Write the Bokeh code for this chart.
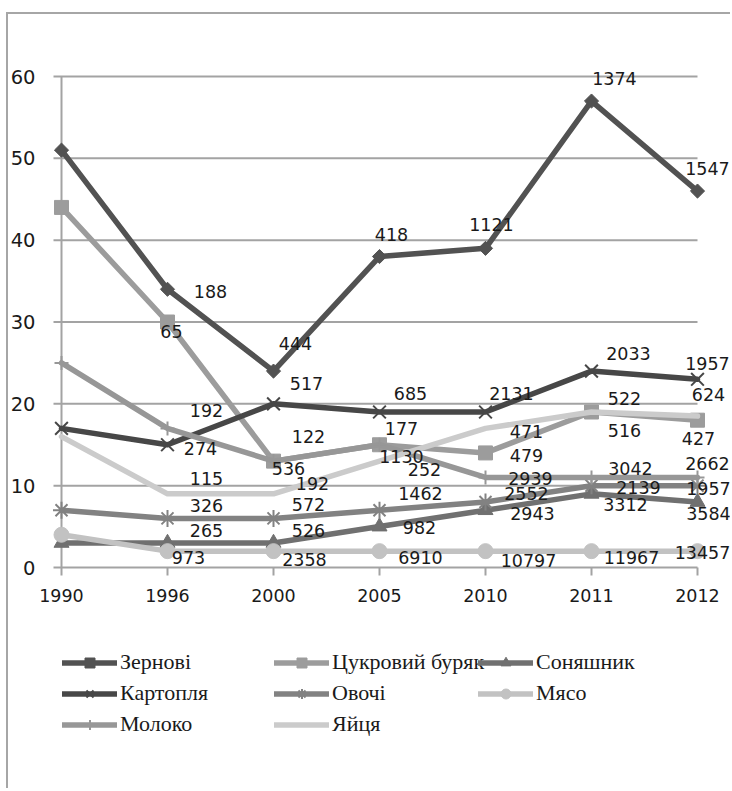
import math
from bokeh.plotting import figure
from bokeh.models import (Range1d, LabelSet, ColumnDataSource, Legend, LegendItem)
from bokeh.embed import file_html
from bokeh.resources import INLINE
from bokeh.core.properties import value

# ---------------- data ----------------
years = ["1990", "1996", "2000", "2005", "2010", "2011", "2012"]
y_ticks = [0, 10, 20, 30, 40, 50, 60]

zernovi = [51, 34, 24, 38, 39, 57, 46]
zernovi_labels = ["", "188", "444", "418", "1121", "1374", "1547"]
tsukr = [44, 30, 13, 15, 14, 19, 18]
tsukr_labels = ["", "65", "536", "177", "479", "516", "427"]
sonyash = [3, 3, 3, 5, 7, 9, 8]
sonyash_labels = ["", "265", "526", "982", "2943", "3312", "3584"]
kartoplya = [17, 15, 20, 19, 19, 24, 23]
kartoplya_labels = ["", "274", "517", "685", "2131", "2033", "1957"]
ovochi = [7, 6, 6, 7, 8, 10, 10]
ovochi_labels = ["", "326", "572", "1462", "2552", "2139", "1957"]
myaso = [4, 2, 2, 2, 2, 2, 2]
myaso_labels = ["", "973", "2358", "6910", "10797", "11967", "13457"]
moloko = [25, 17, 13, 15, 11, 11, 11]
moloko_labels = ["", "192", "122", "252", "2939", "3042", "2662"]
yaytsya = [16, 9, 9, 13, 17, 19, 18.5]
yaytsya_labels = ["", "115", "192", "1130", "471", "522", "624"]

series = [
    ("Зернові", zernovi, zernovi_labels),
    ("Цукровий буряк", tsukr, tsukr_labels),
    ("Соняшник", sonyash, sonyash_labels),
    ("Картопля", kartoplya, kartoplya_labels),
    ("Овочі", ovochi, ovochi_labels),
    ("Мясо", myaso, myaso_labels),
    ("Молоко", moloko, moloko_labels),
    ("Яйця", yaytsya, yaytsya_labels),
]

# ---------------- styles ----------------
style = {
    "Зернові": dict(color="#525252", marker="square", size=10, angle=math.pi / 4, lw=1),
    "Цукровий буряк": dict(color="#9c9c9c", marker="square", size=14, angle=0, lw=1),
    "Соняшник": dict(color="#707070", marker="triangle", size=15, angle=0, lw=1),
    "Картопля": dict(color="#474747", marker="x", size=18, angle=0, lw=2),
    "Овочі": dict(color="#828282", marker="asterisk", size=17, angle=0, lw=2),
    "Мясо": dict(color="#c2c2c2", marker="circle", size=15, angle=0, lw=1),
    "Молоко": dict(color="#979797", marker="cross", size=14, angle=0, lw=2),
    "Яйця": dict(color="#cbcbcb", marker=None, size=0, angle=0, lw=1),
}
# label offsets in screen px (dx right, dy down) per series
label_off = {
    "Зернові": [(0, 0), (43, 2), (22, -28), (12, -22), (6, -24), (23, -23), (10, -23)],
    "Цукровий буряк": [(0, 0), (4, 9), (15, 7), (22, -16), (41, 3), (33, 18), (1, 18)],
    "Соняшник": [(0, 0), (39, -12), (35, -12), (40, 1), (47, 3), (34, 11), (11, 11)],
    "Картопля": [(0, 0), (33, 4), (33, -20), (31, -19), (26, -19), (37, -18), (10, -16)],
    "Овочі": [(0, 0), (39, -13), (35, -14), (41, -17), (41, -9), (47, 2), (11, 3)],
    "Мясо": [(0, 0), (21, 6), (31, 8), (41, 6), (43, 9), (40, 6), (5, 1)],
    "Молоко": [(0, 0), (39, -18), (35, -25), (45, 25), (45, 1), (39, -9), (10, -14)],
    "Яйця": [(0, 0), (39, -15), (39, -10), (22, -5), (41, 3), (33, -14), (11, -22)],
}
legend_cols = [["Зернові", "Картопля", "Молоко"],
               ["Цукровий буряк", "Овочі", "Яйця"],
               ["Соняшник", "Мясо"]]
legend_pos = [(62, 51), (274, 51), (478, 82)]

GRID = "#a3a3a3"
TXT = "#1a1a1a"
W, H = 730, 788
n = len(years)
# plot geometry (screen px)
X0_PX, Y0_PX = 61, 567          # where x=0 / y=0 fall
PX_X = 106.0                    # px per category step
PX_Y = 491.0 / 60               # px per unit
TICK = 8                        # tick length px

x_start = -X0_PX / PX_X
x_end = x_start + W / PX_X
y_start = -(H - Y0_PX) / PX_Y
y_end = y_start + H / PX_Y

p = figure(width=W, height=H, output_backend="svg", toolbar_location=None,
           x_range=Range1d(x_start, x_end), y_range=Range1d(y_start, y_end),
           min_border_left=0, min_border_right=0, min_border_top=0,
           min_border_bottom=0)
p.xaxis.visible = False
p.yaxis.visible = False
p.xgrid.visible = False
p.ygrid.visible = False
p.border_fill_color = None
p.background_fill_color = None
p.outline_line_color = None
p.styles = {
    "background": ("linear-gradient(#a6a6a6,#a6a6a6) 6px 12px / 2px calc(100% - 12px) no-repeat, "
                   "linear-gradient(#a6a6a6,#a6a6a6) 6px 12px / calc(100% - 6px) 2px no-repeat"),
}

# gridlines (with outward tick stubs) and axes
stub = -TICK / PX_X
p.segment(x0=[stub] * len(y_ticks), x1=[n - 1] * len(y_ticks), y0=y_ticks, y1=y_ticks,
          line_color=GRID, line_width=2)
p.segment(x0=[0], x1=[0], y0=[y_ticks[0]], y1=[y_ticks[-1]], line_color=GRID, line_width=2)
xs = list(range(n))
p.segment(x0=xs, x1=xs, y0=[0] * n, y1=[-TICK / PX_Y] * n, line_color=GRID, line_width=2)

ytl = ColumnDataSource(dict(x=[0] * len(y_ticks), y=y_ticks, text=[str(t) for t in y_ticks]))
p.add_layout(LabelSet(x="x", y="y", text="text", source=ytl, x_offset=-26,
                      text_align="right", text_baseline="middle",
                      text_font=value("DejaVu Sans"), text_font_size=value("19.5px"),
                      text_color=TXT))
xtl = ColumnDataSource(dict(x=xs, y=[0] * n, text=years))
p.add_layout(LabelSet(x="x", y="y", text="text", source=xtl, y_offset=-28,
                      text_align="center", text_baseline="middle",
                      text_font=value("DejaVu Sans"), text_font_size=value("17.5px"),
                      text_color=TXT))

renderers = {}
for name, vals, labs in series:
    st = style[name]
    src = ColumnDataSource(dict(x=xs, y=vals))
    rl = p.line("x", "y", source=src, line_color=st["color"], line_width=5.5,
                line_join="round", line_cap="round")
    rs = []
    if st["marker"]:
        r = p.scatter("x", "y", source=src, marker=st["marker"], size=st["size"],
                      angle=st["angle"], fill_color=st["color"],
                      line_color=st["color"], line_width=st["lw"])
        rs = [r]
    renderers[name] = [rl] + rs

for name, vals, labs in series:
    src = ColumnDataSource(dict(x=xs, y=vals, text=labs,
                                dx=[o[0] for o in label_off[name]],
                                dy=[-o[1] for o in label_off[name]]))
    p.add_layout(LabelSet(x="x", y="y", text="text", source=src, x_offset="dx", y_offset="dy",
                          text_align="center", text_baseline="middle",
                          text_font=value("DejaVu Sans"), text_font_size=value("17.5px"),
                          text_color=TXT))

for col, pos in zip(legend_cols, legend_pos):
    items = [LegendItem(label=nm, renderers=renderers[nm]) for nm in col]
    lg = Legend(items=items, location=pos, orientation="vertical",
                label_text_font="Liberation Serif", label_text_font_size="22px",
                label_text_color=TXT, glyph_width=55, glyph_height=25,
                label_height=25, label_standoff=3, spacing=5, padding=0, margin=0,
                border_line_color=None, background_fill_alpha=0)
    p.add_layout(lg, "center")

open("out.html", "w").write(file_html(p, INLINE))
